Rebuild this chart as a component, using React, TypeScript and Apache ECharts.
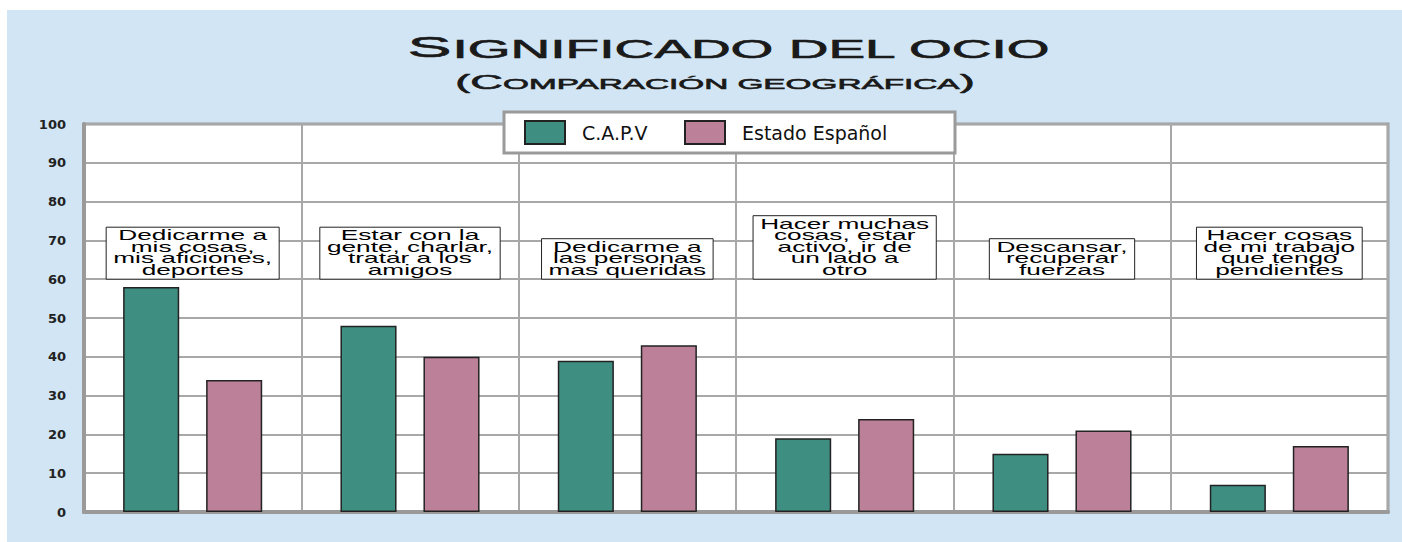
import { useEffect, useRef } from 'react';
import * as echarts from 'echarts';

const categories = [
  'Dedicarme a mis cosas, mis aficiones, deportes',
  'Estar con la gente, charlar, tratar a los amigos',
  'Dedicarme a las personas mas queridas',
  'Hacer muchas cosas, estar activo, ir de un lado a otro',
  'Descansar, recuperar fuerzas',
  'Hacer cosas de mi trabajo que tengo pendientes',
];
const labelLines = [
  ['Dedicarme a', 'mis cosas,', 'mis aficiones,', 'deportes'],
  ['Estar con la', 'gente, charlar,', 'tratar a los', 'amigos'],
  ['Dedicarme a', 'las personas', 'mas queridas'],
  ['Hacer muchas', 'cosas, estar', 'activo, ir de', 'un lado a', 'otro'],
  ['Descansar,', 'recuperar', 'fuerzas'],
  ['Hacer cosas', 'de mi trabajo', 'que tengo', 'pendientes'],
];
const capv = [58, 48, 39, 19, 15, 7];
const estado = [34, 40, 43, 24, 21, 17];
const seriesNames = ['C.A.P.V', 'Estado Español'];
const labelAnchor = 60;
const titleMain = ['S', 'IGNIFICADO DEL OCIO'];
const titleSub = ['(C', 'OMPARACIÓN GEOGRÁFICA', ')'];

const BOX_FONT = 15;
const BOX_FAMILY = 'Liberation Sans';
const BOX_SCALE = 1.75;
const BOX_LH = 11.5;
const BOX_PADX = 7;

let measureCtx: CanvasRenderingContext2D | null = null;
function maxLineWidth(lines: string[]) {
  if (!measureCtx) measureCtx = document.createElement('canvas').getContext('2d');
  const ctx = measureCtx!;
  ctx.font = `${BOX_FONT}px "${BOX_FAMILY}"`;
  return Math.max(...lines.map((l) => ctx.measureText(l).width));
}

export default function App() {
  const ref = useRef<HTMLDivElement>(null);
  useEffect(() => {
    const chart = echarts.init(ref.current!, null, { renderer: 'svg' });
    const titleTok = (size: number) => ({
      fontSize: size,
      fontFamily: 'Liberation Sans',
      fill: '#1a1a1a',
      stroke: '#1a1a1a',
      lineWidth: 0.6,
      verticalAlign: 'bottom',
    });
    const legendBase = {
      top: 110,
      orient: 'horizontal',
      icon: 'rect',
      itemWidth: 40,
      itemHeight: 23,
      padding: 0,
      selectedMode: false,
      z: 6,
      textStyle: {
        fontFamily: 'DejaVu Sans',
        fontSize: 19,
        color: '#111',
        padding: [0, 0, 0, 12],
      },
    };
    chart.setOption({
      animation: false,
      backgroundColor: '#D1E5F4',
      graphic: [
        {
          type: 'text',
          x: 722,
          y: 52,
          scaleX: 2.2,
          style: {
            text: `{a|${titleMain[0]}}{b|${titleMain[1]}}`,
            rich: { a: titleTok(30), b: titleTok(25) },
            align: 'center',
            verticalAlign: 'bottom',
            fill: '#1a1a1a',
          },
        },
        {
          type: 'text',
          x: 708,
          y: 82,
          scaleX: 2.15,
          style: {
            text: `{a|${titleSub[0]}}{b|${titleSub[1]}}{a|${titleSub[2]}}`,
            rich: { a: titleTok(21), b: titleTok(15.5) },
            align: 'center',
            verticalAlign: 'bottom',
            fill: '#1a1a1a',
          },
        },
        {
          type: 'rect',
          z: 5,
          shape: { x: 497, y: 102, width: 451, height: 41 },
          style: { fill: '#fff', stroke: '#9a9a9a', lineWidth: 3 },
        },
      ],
      legend: [
        { ...legendBase, data: [seriesNames[0]], left: 517 },
        { ...legendBase, data: [seriesNames[1]], left: 677 },
      ],
      grid: {
        left: 77,
        right: 14,
        top: 114,
        bottom: 30,
        show: true,
        backgroundColor: '#fff',
        borderColor: '#9a9a9a',
        borderWidth: 3,
      },
      xAxis: {
        type: 'category',
        data: categories,
        axisLabel: { show: false, interval: 0 },
        axisTick: { show: false },
        axisLine: { show: true, lineStyle: { color: '#9a9a9a', width: 4 } },
        splitLine: { show: true, interval: 0, lineStyle: { color: '#a8a8a8', width: 2 } },
      },
      yAxis: {
        type: 'value',
        min: 0,
        max: 100,
        interval: 10,
        axisTick: { show: false },
        axisLine: { show: true, lineStyle: { color: '#9a9a9a', width: 4 } },
        splitLine: { show: true, lineStyle: { color: '#a8a8a8', width: 2 } },
        axisLabel: {
          margin: 18,
          fontFamily: 'DejaVu Sans',
          fontWeight: 'bold',
          fontSize: 13,
          color: '#222',
        },
      },
      series: [
        {
          name: seriesNames[0],
          type: 'bar',
          data: capv,
          barGap: '48%',
          barCategoryGap: '36%',
          itemStyle: { color: '#3E8E82', borderColor: '#222', borderWidth: 1.5 },
        },
        {
          name: seriesNames[1],
          type: 'bar',
          data: estado,
          itemStyle: { color: '#BC8099', borderColor: '#222', borderWidth: 1.5 },
        },
        {
          type: 'custom',
          silent: true,
          z: 10,
          clip: false,
          data: labelLines.map((_, i) => [i, labelAnchor]),
          renderItem: (_params: any, api: any) => {
            const idx = api.value(0);
            const lines = labelLines[idx];
            const pt = api.coord([idx, api.value(1)]);
            const w = maxLineWidth(lines) * BOX_SCALE + BOX_PADX * 2;
            const h = lines.length * BOX_LH + 6;
            return {
              type: 'group',
              children: [
                {
                  type: 'rect',
                  shape: { x: pt[0] - w / 2, y: pt[1] - h, width: w, height: h },
                  style: { fill: '#fff', stroke: '#222', lineWidth: 1 },
                },
                {
                  type: 'text',
                  x: pt[0],
                  y: pt[1] - h + 2.5,
                  scaleX: BOX_SCALE,
                  style: {
                    text: lines.join('\n'),
                    fontSize: BOX_FONT,
                    fontFamily: BOX_FAMILY,
                    lineHeight: BOX_LH,
                    align: 'center',
                    verticalAlign: 'top',
                    fill: '#000',
                  },
                },
              ],
            };
          },
        },
      ],
    });
    return () => chart.dispose();
  }, []);
  return (
    <div
      ref={ref}
      style={{ position: 'absolute', left: 7, top: 10, width: 1395, height: 532 }}
    />
  );
}
